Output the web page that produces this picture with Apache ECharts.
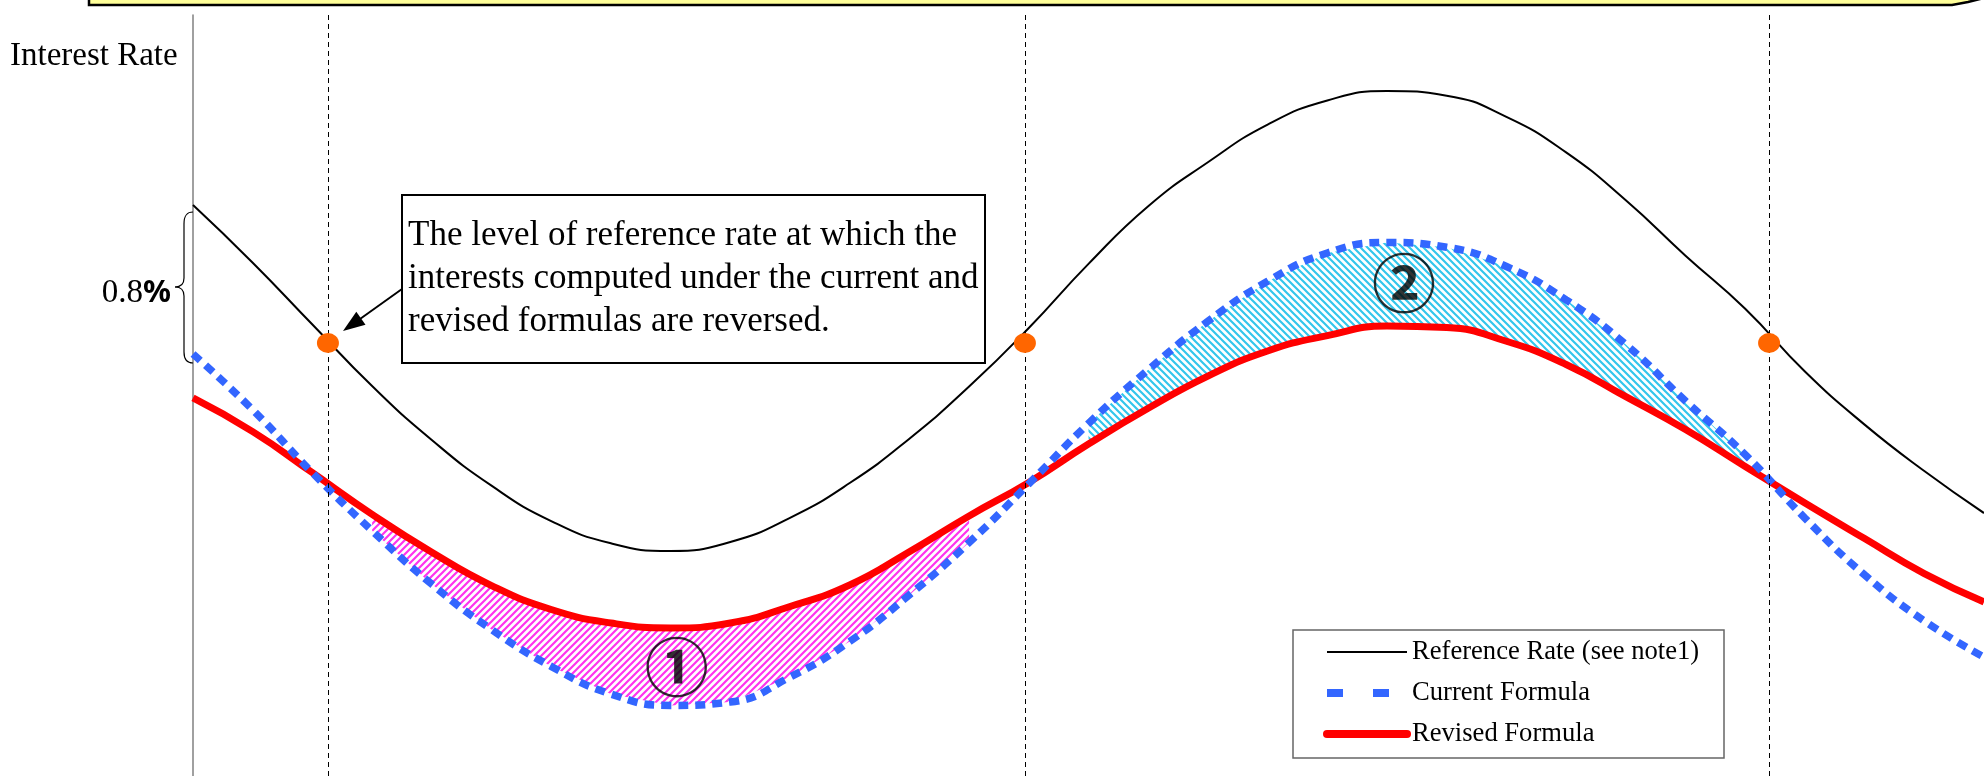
<!DOCTYPE html>
<html>
<head>
<meta charset="utf-8">
<script src="https://cdn.jsdelivr.net/npm/echarts@6/dist/echarts.min.js"></script>
<style>
html,body{margin:0;padding:0;background:#fff;}
#c{width:1984px;height:776px;}
</style>
</head>
<body>
<div id="c"></div>
<script>
// ---- data (time units on x, interest rate in % on y) ----
const T = [0,2,4,6,8,10,12,14,16,18,20,22,24,26,28,30,32,34,36,38,40,42,44,46,48,50,52,54,56,58,60];
const referenceRate = [3.001,2.698,2.373,2.050,1.766,1.526,1.340,1.223,1.183,1.230,1.357,1.540,1.773,2.047,2.355,2.692,2.995,3.226,3.424,3.551,3.601,3.576,3.465,3.278,3.026,2.735,2.456,2.126,1.847,1.603,1.382];
const currentFormula = [2.218,1.925,1.594,1.289,1.008,0.770,0.576,0.431,0.371,0.389,0.520,0.707,0.952,1.227,1.536,1.853,2.135,2.390,2.600,2.749,2.804,2.779,2.678,2.503,2.268,1.971,1.689,1.356,1.057,0.815,0.625];
const revisedFormula = [1.987,1.810,1.594,1.375,1.176,1.001,0.875,0.804,0.778,0.804,0.891,1.004,1.179,1.367,1.543,1.745,1.933,2.102,2.234,2.315,2.365,2.357,2.285,2.163,1.994,1.821,1.627,1.435,1.248,1.064,0.915];
const crossT = [4.52, 27.87, 52.80];
const crossRate = [2.276, 2.276, 2.276];
const region1Range = [6, 26];   // current formula below revised
const region2Range = [30, 52];  // current formula above revised
const regionLabels = [[16.21, 0.573, '\u2460'], [40.57, 2.591, '\u2461']];
const seriesNames = ['Reference Rate (see note1)', 'Current Formula', 'Revised Formula'];

function hatch(color, dir) {
  const s = 7, c = document.createElement('canvas');
  c.width = s; c.height = s;
  const g = c.getContext('2d');
  g.strokeStyle = color; g.lineWidth = 2.2;
  g.beginPath();
  [-s, 0, s].forEach(o => {
    if (dir === '/') { g.moveTo(o - 1, s + 1); g.lineTo(o + s + 1, -1); }
    else { g.moveTo(o - 1, -1); g.lineTo(o + s + 1, s + 1); }
  });
  g.stroke();
  return c;
}
const patterns = [
  {image: hatch('#FF33EE', '/'), repeat: 'repeat'},
  {image: hatch('#33C6EC', '\\'), repeat: 'repeat'}
];
const regions = [
  {range: region1Range, upper: revisedFormula, lower: currentFormula},
  {range: region2Range, upper: currentFormula, lower: revisedFormula}
];

const braceStyle = {fill: 'none', stroke: '#000', lineWidth: 1.2};
const hiddenSymbol = {color: 'rgba(0,0,0,0)', borderColor: 'rgba(0,0,0,0)', borderWidth: 0, opacity: 0};

const chart = echarts.init(document.getElementById('c'));
chart.setOption({
  animation: false,
  grid: {left: 193, right: 0, top: 15, bottom: 0},
  xAxis: {type: 'value', min: 0, max: 60, show: false},
  yAxis: {type: 'value', min: 0, max: 4,
    axisLine: {show: true, lineStyle: {color: '#808080', width: 1.5}},
    axisTick: {show: false}, axisLabel: {show: false}, splitLine: {show: false}},
  legend: {
    orient: 'vertical', left: 1323, top: 637, z: 20,
    padding: 0, itemGap: 11, itemWidth: 80, itemHeight: 14,
    selectedMode: false,
    textStyle: {fontFamily: 'Liberation Serif', fontSize: 26.6, color: '#000', lineHeight: 30},
    data: [
      {name: seriesNames[0], itemStyle: hiddenSymbol, lineStyle: {width: 2, color: '#000'}},
      {name: seriesNames[1], itemStyle: hiddenSymbol, lineStyle: {width: 8, type: [16, 30], color: '#3366FF', cap: 'butt'}},
      {name: seriesNames[2], itemStyle: hiddenSymbol, lineStyle: {width: 8, color: '#FF0000', cap: 'round'}}
    ]
  },
  series: [
    {name: 'regions', type: 'custom', coordinateSystem: 'cartesian2d', z: 1, silent: true,
      data: regions.map(r => [r.range[0], 0]),
      encode: {x: 0, y: 1},
      renderItem: function (params, api) {
        const r = regions[params.dataIndex];
        const idx = T.map((t, i) => i).filter(i => T[i] >= r.range[0] && T[i] <= r.range[1]);
        const top = idx.map(i => api.coord([T[i], r.upper[i]]));
        const bot = idx.slice().reverse().map(i => api.coord([T[i], r.lower[i]]));
        return {type: 'polygon', shape: {points: top.concat(bot)},
          style: {fill: patterns[params.dataIndex], stroke: null}};
      }},
    {name: seriesNames[0], type: 'line', smooth: true, symbol: 'none', z: 3,
      data: T.map((t, i) => [t, referenceRate[i]]),
      lineStyle: {color: '#000', width: 2}, itemStyle: {color: '#000'}},
    {name: seriesNames[2], type: 'line', smooth: true, symbol: 'none', z: 3,
      data: T.map((t, i) => [t, revisedFormula[i]]),
      lineStyle: {color: '#FF0000', width: 7}, itemStyle: {color: '#FF0000'}},
    {name: seriesNames[1], type: 'line', smooth: true, symbol: 'none', z: 4,
      data: T.map((t, i) => [t, currentFormula[i]]),
      lineStyle: {color: '#3366FF', width: 7.5, type: [10, 7]}, itemStyle: {color: '#3366FF'}},
    {name: 'cross', type: 'scatter', z: 5, symbolSize: [22, 20],
      itemStyle: {color: '#FF6600', opacity: 1},
      data: crossT.map((t, i) => [t, crossRate[i]]),
      markLine: {silent: true, symbol: ['none', 'none'], label: {show: false},
        lineStyle: {color: '#000', type: [5, 4], width: 1},
        data: crossT.map(t => ({xAxis: t}))}},
    {name: 'labels', type: 'scatter', z: 6, symbolSize: 1, silent: true,
      itemStyle: {color: 'rgba(0,0,0,0)'},
      data: regionLabels,
      label: {show: true, position: 'inside', formatter: p => p.data[2],
        fontFamily: 'Noto Sans CJK JP', fontWeight: 'bold', fontSize: 64, color: '#000'}}
  ],
  graphic: [
    {type: 'polygon', z: 10, shape: {points: [[89, -20], [89, 5], [1952, 5], [1968, 2], [1984, -2], [1984, -20]]},
      style: {fill: '#FFFF99', stroke: '#000', lineWidth: 2.5}},
    {type: 'text', z: 10, style: {text: 'Interest Rate', x: 10, y: 56, textVerticalAlign: 'middle',
      font: '33px "Liberation Serif"', fill: '#000'}},
    {type: 'bezierCurve', z: 10, shape: {x1: 193, y1: 212, cpx1: 187, cpy1: 212, cpx2: 184, cpy2: 215, x2: 184, y2: 224}, style: braceStyle},
    {type: 'line', z: 10, shape: {x1: 184, y1: 224, x2: 184, y2: 278}, style: braceStyle},
    {type: 'bezierCurve', z: 10, shape: {x1: 184, y1: 278, cpx1: 184, cpy1: 284, cpx2: 181, cpy2: 287, x2: 175, y2: 287}, style: braceStyle},
    {type: 'bezierCurve', z: 10, shape: {x1: 175, y1: 287, cpx1: 181, cpy1: 287, cpx2: 184, cpy2: 290, x2: 184, y2: 296}, style: braceStyle},
    {type: 'line', z: 10, shape: {x1: 184, y1: 296, x2: 184, y2: 352}, style: braceStyle},
    {type: 'bezierCurve', z: 10, shape: {x1: 184, y1: 352, cpx1: 184, cpy1: 360, cpx2: 187, cpy2: 363, x2: 193, y2: 363}, style: braceStyle},
    {type: 'text', z: 10, style: {text: '{a|0.8}{b|%}', x: 171, y: 293, textAlign: 'right', textVerticalAlign: 'middle',
      rich: {a: {fontFamily: 'Liberation Serif', fontSize: 33, fill: '#000'},
             b: {fontFamily: 'Noto Sans', fontWeight: 'bold', fontSize: 31, fill: '#000'}}}},
    {type: 'rect', z: 10, shape: {x: 402, y: 195, width: 583, height: 168},
      style: {fill: '#fff', stroke: '#000', lineWidth: 2}},
    {type: 'text', z: 11, style: {text: 'The level of reference rate at which the\ninterests computed under the current and\nrevised formulas are reversed.',
      x: 408, y: 214, font: '35px "Liberation Serif"', lineHeight: 43, fill: '#000'}},
    {type: 'line', z: 10, shape: {x1: 402, y1: 289, x2: 360, y2: 319}, style: {stroke: '#000', lineWidth: 2}},
    {type: 'polygon', z: 10, shape: {points: [[343, 331], [365.5, 324.7], [356.3, 311.7]]}, style: {fill: '#000'}},
    {type: 'rect', z: 5, shape: {x: 1293, y: 630, width: 431, height: 128},
      style: {fill: '#fff', stroke: '#666', lineWidth: 1.5}}
  ]
});
</script>
</body>
</html>
